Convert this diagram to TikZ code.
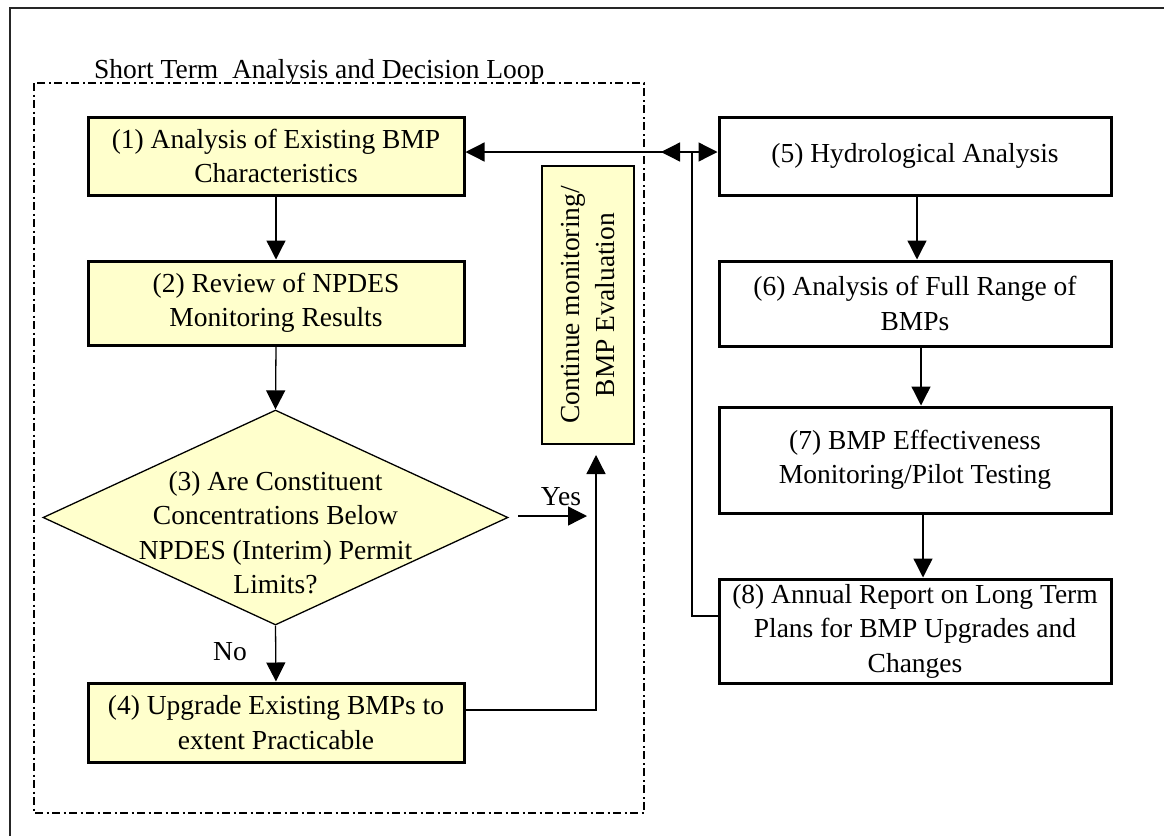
\documentclass[tikz,border=0pt]{standalone}
\usepackage{fontspec}
\setmainfont{Liberation Serif}
\usetikzlibrary{arrows.meta,shapes.geometric}
\definecolor{boxyellow}{HTML}{FFFFCC}
\begin{document}
\begin{tikzpicture}[x=1pt,y=-1pt,
  every node/.style={font=\fontsize{27.5}{34.5}\selectfont, inner sep=0pt, align=center},
  ybox/.style={draw, line width=3pt, fill=boxyellow, minimum width=376pt},
  wbox/.style={draw, line width=3pt, fill=white, minimum width=392pt},
  cmbox/.style={draw, line width=1.5pt, fill=boxyellow, minimum width=278pt, minimum height=92pt},
  dia/.style={draw, diamond, fill=boxyellow, line width=1.3pt, minimum width=465pt, minimum height=215pt, inner sep=0pt},
  conn/.style={line width=1.3pt},
  arr/.style={line width=1.3pt, -{Triangle[length=19pt,width=19pt]}},
  arrboth/.style={line width=1.3pt, {Triangle[length=19pt,width=19pt]}-{Triangle[length=19pt,width=19pt]}},
  loopbox/.style={line width=1.5pt, dash pattern=on 8pt off 3.5pt on 2pt off 3.5pt},
  frame/.style={line width=2pt, black!85}
]
\useasboundingbox (0,0) rectangle (1164,836);
% outer frame (cropped at right and bottom)
\draw[frame] (10,836) -- (10,8) -- (1164,8);
% short-term loop
\draw[loopbox] (34,83) rectangle (644,813);
\node[anchor=base west] (looplabel) at (94,78) {Short Term\ \ Analysis and Decision Loop};

% left column
\node[ybox, minimum height=78pt] (b1) at (276,156) {(1) Analysis of Existing BMP\\Characteristics};
\node[ybox, minimum height=84pt] (b2) at (276,303) {(2) Review of NPDES\\Monitoring Results};
\node[dia] (d3) at (275.5,517.5) {};
\node (d3t) at (275.5,532.5) {(3) Are Constituent\\Concentrations Below\\NPDES (Interim) Permit\\Limits?};
\node[ybox, minimum height=79pt] (b4) at (276,722.5) {(4) Upgrade Existing BMPs to\\extent Practicable};
\node[cmbox, rotate=90] (cm) at (588,305) {Continue monitoring/\\BMP Evaluation};

% right column
\node[wbox, minimum height=78pt] (b5) at (915,156) {(5) Hydrological Analysis};
\node[wbox, minimum height=85pt] (b6) at (915,303.5) {(6) Analysis of Full Range of\\BMPs};
\node[wbox, minimum height=106pt] (b7) at (915,460) {(7) BMP Effectiveness\\Monitoring/Pilot Testing};
\node[wbox, minimum height=104pt] (b8) at (915,631) {(8) Annual Report on Long Term\\Plans for BMP Upgrades and\\Changes};

% connectors left
\draw[arr] (b1.south) -- (b2.north);
\draw[arr] (b2.south) -- (d3.north);
\draw[arr] (d3.south) -- (b4.north);
\node[anchor=base] (no) at (230,660) {No};
\coordinate (ys) at (518,516);
\coordinate (ye) at (587,516);
\draw[arr] (ys) -- (ye);
\node[anchor=base] (yes) at (561,505) {Yes};
\coordinate (cmin) at (596,455);
\draw[arr] ([yshift=12.5pt]b4.east) -| (cmin);

% connectors right
\draw[arr] ([xshift=2pt]b5.south) -- ([xshift=2pt]b6.north);
\draw[arr] ([xshift=6pt]b6.south) -- ([xshift=6pt]b7.north);
\draw[arr] ([xshift=8pt]b7.south) -- ([xshift=8pt]b8.north);

% feedback
\coordinate (jn) at (692,152);
\coordinate (jl) at (661,152);
\draw[conn] ([yshift=15pt]b8.west) -| (jn);
\draw[arr] (jn) -- (jn -| b1.east);
\draw[arrboth] (jl) -- (jl -| b5.west);
\end{tikzpicture}
\end{document}
